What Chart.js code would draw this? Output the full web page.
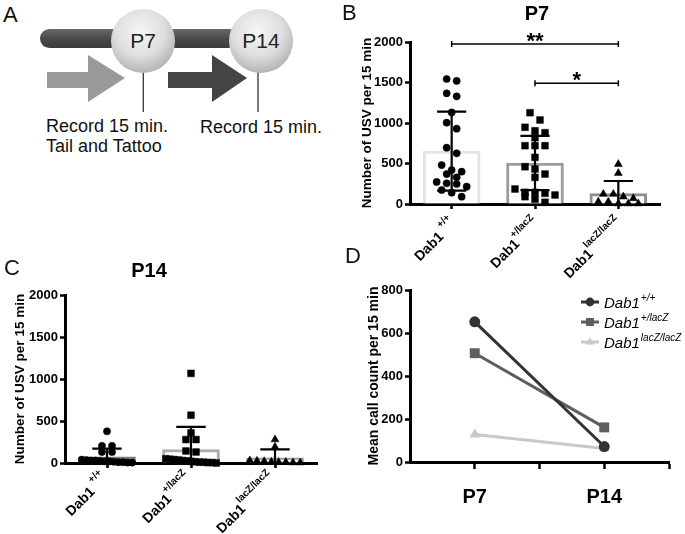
<!DOCTYPE html>
<html>
<head>
<meta charset="utf-8">
<script src="https://cdn.jsdelivr.net/npm/chart.js@4.4.1/dist/chart.umd.min.js"></script>
<style>
  body { margin: 0; background: #fff; }
  #fig { position: relative; width: 685px; height: 534px; overflow: hidden; font-family: 'Liberation Sans', Arial, Helvetica, sans-serif; }
  #fig canvas, #fig svg, .tag { position: absolute; }
  .tag { font-size: 22px; line-height: 22px; color: #111; }
</style>
</head>
<body>
<div id="fig">
  <svg style="left:0;top:0" width="340" height="250" font-family="'Liberation Sans', Arial, sans-serif">
    <defs>
      <radialGradient id="ball" cx="45%" cy="35%" r="65%">
        <stop offset="0" stop-color="#f6f6f6"/>
        <stop offset="0.6" stop-color="#dedede"/>
        <stop offset="1" stop-color="#b4b4b4"/>
      </radialGradient>
      <linearGradient id="rod" x1="0" y1="0" x2="0" y2="1">
        <stop offset="0" stop-color="#6a6a6a"/>
        <stop offset="0.5" stop-color="#4a4a4a"/>
        <stop offset="1" stop-color="#3a3a3a"/>
      </linearGradient>
    </defs>
    <rect x="40" y="29" width="212" height="19" rx="9.5" fill="url(#rod)"/>
    <polygon points="47,72 88,72 88,55 125,78 88,102 88,88 47,88" fill="#9a9a9a"/>
    <polygon points="168,72 212,72 212,55 247,78 212,102 212,88 168,88" fill="#444"/>
    <line x1="143.3" y1="70" x2="143.3" y2="112" stroke="#333" stroke-width="1.3"/>
    <line x1="258" y1="70" x2="258" y2="112" stroke="#333" stroke-width="1.3"/>
    <circle cx="143" cy="41" r="32" fill="url(#ball)"/>
    <circle cx="261" cy="41" r="32" fill="url(#ball)"/>
    <text x="143" y="48" text-anchor="middle" font-size="21" fill="#222">P7</text>
    <text x="261" y="48" text-anchor="middle" font-size="21" fill="#222">P14</text>
    <text x="46" y="132" font-size="18" fill="#111">Record 15 min.</text>
    <text x="46" y="152" font-size="18" fill="#111">Tail and Tattoo</text>
    <text x="200" y="133" font-size="18" fill="#111">Record 15 min.</text>
  </svg>
  <canvas id="chartB" width="345" height="285" style="left:340px;top:0"></canvas>
  <canvas id="chartC" width="340" height="284" style="left:0;top:250px"></canvas>
  <canvas id="chartD" width="345" height="264" style="left:340px;top:270px"></canvas>
  <div class="tag" style="left:3px;top:4px">A</div>
  <div class="tag" style="left:342px;top:2px">B</div>
  <div class="tag" style="left:4px;top:257px">C</div>
  <div class="tag" style="left:345px;top:245px">D</div>
</div>
<script>
const FONT = "'Liberation Sans', Arial, Helvetica, sans-serif";
Chart.defaults.font.family = FONT;
Chart.defaults.color = '#000';

// genotype labels (Dab1 + superscript)
const genoBase = 'Dab1';
const genoSup = ['+/+', '+/lacZ', 'lacZ/lacZ'];
const groupX = [1, 2, 3];

// P7 USV counts per pup (panel B)
const p7WT = [1543, 1519, 1366, 1329, 1130, 1004, 930, 695, 626, 481, 420, 399, 370, 330, 272, 255, 247, 214, 173, 140, 90];
const p7Het = [1127, 1037, 947, 904, 880, 819, 720, 720, 720, 576, 460, 432, 370, 329, 185, 144, 144, 132, 111, 90, 60, 21];
const p7KO = [492, 380, 123, 123, 90, 70, 28, 28, 5, 5, 5];
const p7Mean = [652, 506, 128];
const p7SD = [488, 334, 156];

// P14 USV counts per pup (panel C)
const p14WT = [378, 203, 203, 131, 131, 40, 35, 30, 30, 25, 20, 20, 15, 10, 10, 5, 5];
const p14Het = [1067, 569, 358, 279, 279, 143, 131, 50, 45, 40, 35, 30, 25, 20, 15, 10, 10, 5, 5, 0];
const p14KO = [279, 191, 30, 25, 20, 15, 10, 10, 5, 5];
const p14Mean = [72, 161, 63];
const p14SD = [100, 268, 99];

// significance brackets, panel B
const sigFrom = [1, 2];
const sigTo = [3, 3];
const sigAt = [1975, 1490];
const sigText = ['**', '*'];

const usvTicks = [0, 500, 1000, 1500, 2000];
const meanTicks = [0, 200, 400, 600, 800];
const ages = ['P7', 'P14'];

const shapes = ['circle', 'rect', 'triangle'];
const dotR = [3.6, 4.8, 4.6];
const lineR = [5.5, 7, 6];
const lineColors = ['#333333', '#5e5e5e', '#c8c8c8'];
const CAP = 0.175;     // half width of error bar caps (x units)
const STEP = 0.12;     // horizontal spacing of dots in a row
const MAXHALF = 0.3;

// spread points of one group sideways like a dot plot
function swarm(vals, center, bin) {
    const sorted = [...vals].sort((a, b) => b - a);
    const out = [];
    let row = [];
    const flush = () => {
        const n = row.length;
        const s = n > 1 ? Math.min(STEP, 2 * MAXHALF / (n - 1)) : 0;
        row.forEach((v, i) => out.push({ x: center + (i - (n - 1) / 2) * s, y: v }));
        row = [];
    };
    sorted.forEach(v => {
        if (row.length && row[0] - v > bin) flush();
        row.push(v);
    });
    flush();
    return out;
}

function axisCommon(tickLen) {
    return {
        grid: { drawOnChartArea: false, offset: false, color: '#000', tickLength: tickLen, tickWidth: 2.5 },
        border: { color: '#000', width: 3 }
    };
}

// Dab1 with superscript, rotated -45deg, right end at (x, y)
function genoLabel(ctx, x, y, g, size) {
    ctx.save();
    ctx.translate(x, y);
    ctx.rotate(-Math.PI / 4);
    ctx.fillStyle = '#000';
    ctx.textAlign = 'left';
    ctx.textBaseline = 'alphabetic';
    ctx.font = `bold ${size}px ${FONT}`;
    const wb = ctx.measureText(genoBase).width;
    ctx.font = `bold ${Math.round(size * 0.68)}px ${FONT}`;
    const ws = ctx.measureText(genoSup[g]).width;
    const gap = g === 0 ? 4 : 0;
    ctx.fillText(genoSup[g], -ws, -size * 0.3);
    ctx.font = `bold ${size}px ${FONT}`;
    ctx.fillText(genoBase, -ws - gap - wb, size * 0.36);
    ctx.restore();
}

function dotExtras(o) {
    return {
        id: 'extras',
        afterDatasetsDraw(chart) {
            const { ctx, scales: { x, y } } = chart;
            ctx.save();
            ctx.strokeStyle = '#000';
            ctx.lineWidth = 2.2;
            o.mean.forEach((m, g) => {
                const cx = x.getPixelForValue(groupX[g]);
                const hw = x.getPixelForValue(groupX[g] + CAP) - cx;
                const hi = y.getPixelForValue(m + o.sd[g]);
                const lo = y.getPixelForValue(Math.max(0, m - o.sd[g]));
                ctx.beginPath();
                ctx.moveTo(cx, hi); ctx.lineTo(cx, lo);
                ctx.moveTo(cx - hw, hi); ctx.lineTo(cx + hw, hi);
                if (m - o.sd[g] > 0) { ctx.moveTo(cx - hw, lo); ctx.lineTo(cx + hw, lo); }
                ctx.stroke();
            });
            ctx.restore();
        },
        afterDraw(chart) {
            const { ctx, scales: { x, y }, chartArea } = chart;
            ctx.save();
            ctx.fillStyle = '#000';
            ctx.font = `bold 20px ${FONT}`;
            ctx.textAlign = 'center';
            ctx.fillText(o.title, o.titleX, o.titleY);
            groupX.forEach((v, g) => genoLabel(ctx, x.getPixelForValue(v) + o.labDx, chartArea.bottom + o.labDy, g, 14));
            (o.sig || []).forEach((s, i) => {
                const x1 = x.getPixelForValue(sigFrom[i]), x2 = x.getPixelForValue(sigTo[i]);
                const yy = y.getPixelForValue(sigAt[i]);
                ctx.strokeStyle = '#000';
                ctx.lineWidth = 1.5;
                ctx.beginPath();
                ctx.moveTo(x1, yy); ctx.lineTo(x2, yy);
                ctx.moveTo(x1, yy - 3); ctx.lineTo(x1, yy + 3);
                ctx.moveTo(x2, yy - 3); ctx.lineTo(x2, yy + 3);
                ctx.stroke();
                ctx.font = `bold 22px ${FONT}`;
                ctx.textAlign = 'center';
                ctx.fillText(sigText[i], (x1 + x2) / 2, yy + 4);
            });
            ctx.restore();
        }
    };
}

function dotChart(id, o) {
    const sets = o.groups.map((vals, g) => ({
        type: 'scatter',
        data: swarm(vals, groupX[g], o.bin),
        pointStyle: shapes[g],
        pointRadius: dotR[g],
        pointBorderWidth: 0.5,
        backgroundColor: '#000',
        borderColor: '#000',
        clip: false,
        order: 1
    }));
    sets.push({
        type: 'bar',
        data: groupX.map((v, g) => ({ x: v, y: o.mean[g] })),
        backgroundColor: '#fff',
        borderColor: o.barColors,
        borderWidth: 3,
        barThickness: 57,
        order: 5
    });
    return new Chart(document.getElementById(id), {
        type: 'bar',
        data: { datasets: sets },
        options: {
            responsive: false,
            animation: false,
            layout: { padding: o.pad },
            plugins: { legend: { display: false }, tooltip: { enabled: false } },
            scales: {
                x: Object.assign(axisCommon(5), {
                    type: 'linear', min: 0.5, max: 3.5, offset: false,
                    afterBuildTicks: s => { s.ticks = groupX.map(v => ({ value: v })); },
                    afterFit: s => { s.height = o.xh; },
                    ticks: { callback: () => '' }
                }),
                y: Object.assign(axisCommon(5), {
                    min: 0, max: 2000,
                    afterBuildTicks: s => { s.ticks = usvTicks.map(v => ({ value: v })); },
                    afterFit: s => { s.width = o.yw; },
                    ticks: { callback: v => String(v), font: { size: 13, weight: 'bold' }, padding: 2 },
                    title: { display: true, text: 'Number of USV per 15 min', font: { size: 13.5, weight: 'bold' }, padding: 0 }
                })
            }
        },
        plugins: [dotExtras(o)]
    });
}

dotChart('chartB', {
    groups: [p7WT, p7Het, p7KO], mean: p7Mean, sd: p7SD, bin: 90,
    barColors: ['#e4e4e4', '#9c9c9c', '#8e8e8e'],
    pad: { left: 19, right: 25, top: 42, bottom: 0 }, yw: 51, xh: 81,
    title: 'P7', titleX: 197, titleY: 20, sig: sigText, labDx: 2, labDy: 17
});

dotChart('chartC', {
    groups: [p14WT, p14Het, p14KO], mean: p14Mean, sd: p14SD, bin: 60,
    barColors: ['#7e7e7e', '#acacac', '#9a9a9a'],
    pad: { left: 12, right: 23, top: 45, bottom: 0 }, yw: 53, xh: 71,
    title: 'P14', titleX: 149, titleY: 27, labDx: -2, labDy: 13
});

// panel D: group means at P7 and P14
const legendD = {
    id: 'legendD',
    afterDraw(chart) {
        const ctx = chart.ctx;
        ctx.save();
        chart.data.datasets.forEach((ds, g) => {
            const y = 32 + g * 20;
            ctx.strokeStyle = ds.borderColor;
            ctx.fillStyle = ds.borderColor;
            ctx.lineWidth = 3;
            ctx.beginPath();
            ctx.moveTo(241, y); ctx.lineTo(259, y);
            ctx.stroke();
            Chart.helpers.drawPoint(ctx, { pointStyle: ds.pointStyle, radius: ds.pointRadius * 0.8, rotation: 0, borderWidth: 0 }, 250, y);
            ctx.fillStyle = '#000';
            ctx.textBaseline = 'alphabetic';
            ctx.font = `italic 15px ${FONT}`;
            ctx.fillText(genoBase, 264, y + 6);
            const w = ctx.measureText(genoBase).width;
            ctx.font = `italic 10px ${FONT}`;
            ctx.fillText(genoSup[g], 264 + w + 1, y - 1);
        });
        ctx.restore();
    }
};

new Chart(document.getElementById('chartD'), {
    type: 'line',
    data: {
        datasets: genoSup.map((s, g) => ({
            label: genoBase + s,
            data: ages.map((a, k) => ({ x: 2 * k + 1, y: [p7Mean, p14Mean][k][g] })),
            borderColor: lineColors[g],
            backgroundColor: lineColors[g],
            borderWidth: 3,
            pointStyle: shapes[g],
            pointRadius: lineR[g],
            pointBorderWidth: 0
        }))
    },
    options: {
        responsive: false,
        animation: false,
        layout: { padding: { left: 26, right: 14, top: 20, bottom: 0 } },
        plugins: { legend: { display: false }, tooltip: { enabled: false } },
        scales: {
            x: Object.assign(axisCommon(7), {
                type: 'linear', min: 0, max: 4,
                afterBuildTicks: s => { s.ticks = [1, 2, 3, 4].map(v => ({ value: v })); },
                afterFit: s => { s.height = 72; },
                ticks: { callback: v => (v % 2 ? ages[(v - 1) / 2] : ''), font: { size: 20, weight: 'bold' }, padding: 16, maxRotation: 0, autoSkip: false }
            }),
            y: Object.assign(axisCommon(5), {
                min: 0, max: 800,
                afterBuildTicks: s => { s.ticks = meanTicks.map(v => ({ value: v })); },
                afterFit: s => { s.width = 44; },
                ticks: { callback: v => String(v), font: { size: 13, weight: 'bold' }, padding: 2 },
                title: { display: true, text: 'Mean call count per 15 min', font: { size: 14, weight: 'bold' }, padding: 0 }
            })
        }
    },
    plugins: [legendD]
});
</script>
</body>
</html>
